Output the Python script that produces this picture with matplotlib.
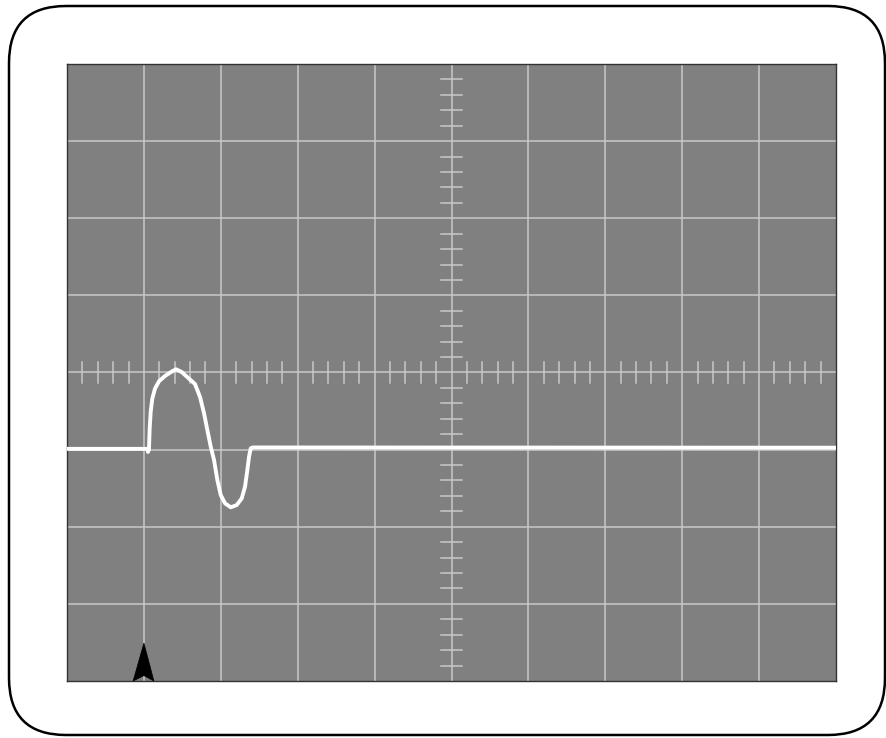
import matplotlib
matplotlib.use("Agg")
import matplotlib.pyplot as plt
from matplotlib.patches import FancyBboxPatch, Polygon
import numpy as np

# screen in divisions: 10 across, 8 up
N_XDIV = 10
N_YDIV = 8

# trace (time div, volts div)
trace_t = [-5.0, -3.95, -3.947, -3.934, -3.925, -3.912, -3.891, -3.856,
           -3.804, -3.726, -3.648, -3.583, -3.508, -3.423, -3.336, -3.270,
           -3.218, -3.175, -3.131, -3.088, -3.045, -3.001, -2.945, -2.871,
           -2.793, -2.728, -2.685, -2.655, -2.633, -2.611, -2.585, 5.0]
trace_v = [-0.99, -0.99, -1.03, -0.996, -0.729, -0.512, -0.340, -0.210,
           -0.114, -0.045, 0.006, 0.042, 0.006, -0.071, -0.149, -0.318,
           -0.529, -0.746, -0.962, -1.135, -1.394, -1.589, -1.696, -1.748,
           -1.719, -1.632, -1.481, -1.265, -1.092, -0.983, -0.972, -0.975]

# trigger marker position (div)
trigger_t = -4.0

SCREEN_GRAY = "#808080"
GRID_COLOR = "#c8c8c8"

fig = plt.figure(figsize=(8.87, 7.38), dpi=100)

# rounded bezel drawn in pixel coords
bg = fig.add_axes([0, 0, 1, 1])
bg.set_xlim(0, 887)
bg.set_ylim(738, 0)
bg.axis("off")
bezel = FancyBboxPatch((9, 6), 876, 729, boxstyle="round,pad=0,rounding_size=57",
                       facecolor="white", edgecolor="black", linewidth=1.8)
bg.add_patch(bezel)

ax = fig.add_axes([67 / 887, (738 - 681) / 738, (836 - 67) / 887, (681 - 64) / 738])
ax.set_xlim(-N_XDIV / 2, N_XDIV / 2)
ax.set_ylim(-N_YDIV / 2, N_YDIV / 2)
ax.set_facecolor(SCREEN_GRAY)
for s in ax.spines.values():
    s.set_color("#333333")
    s.set_linewidth(1.0)
ax.set_xticks([])
ax.set_yticks([])

# major grid
for x in np.arange(-N_XDIV / 2 + 1, N_XDIV / 2):
    ax.axvline(x, color=GRID_COLOR, lw=1.1, zorder=1)
for y in np.arange(-N_YDIV / 2 + 1, N_YDIV / 2):
    ax.axhline(y, color=GRID_COLOR, lw=1.1, zorder=1)

# minor ticks on the centre axes
for x in np.arange(-4.8, 5.0, 0.2):
    if abs(x - round(x)) < 1e-6:
        continue
    ax.plot([x, x], [-0.13, 0.13], color=GRID_COLOR, lw=1.1, zorder=1)
for y in np.arange(-3.8, 4.0, 0.2):
    if abs(y - round(y)) < 1e-6:
        continue
    ax.plot([-0.143, 0.143], [y, y], color=GRID_COLOR, lw=1.1, zorder=1)

# the trace
ax.plot(trace_t, trace_v, color="white", lw=2.8, solid_joinstyle="round",
        solid_capstyle="butt", zorder=3)

# trigger arrow at the bottom edge
arrow = Polygon([[trigger_t, -3.508], [trigger_t - 0.14, -4.0],
                 [trigger_t, -3.93], [trigger_t + 0.13, -4.0]],
                closed=True, facecolor="black", edgecolor="black", lw=0.5,
                zorder=4, clip_on=False)
ax.add_patch(arrow)

fig.savefig("out.png", dpi=100)
